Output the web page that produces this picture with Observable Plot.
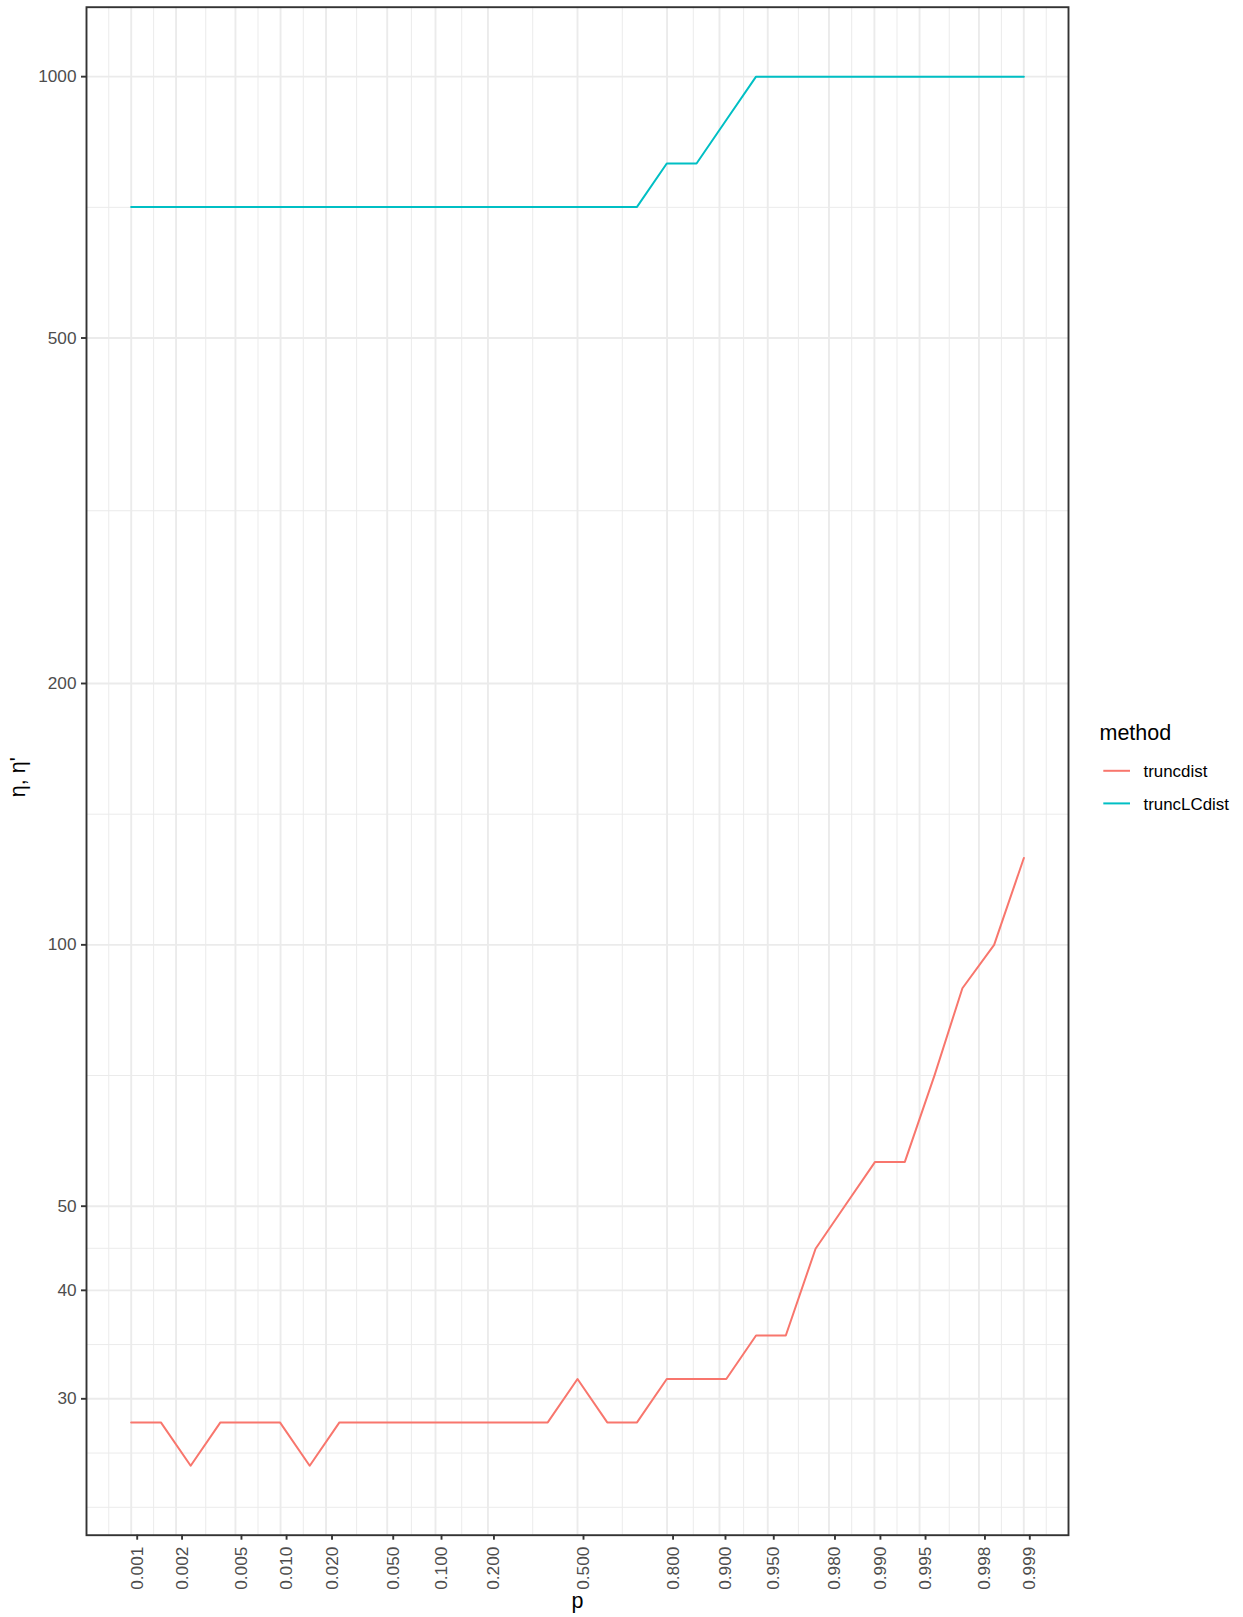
<!DOCTYPE html>
<html>
<head>
<meta charset="utf-8">
<script src="https://cdn.jsdelivr.net/npm/d3@7"></script>
<script src="https://cdn.jsdelivr.net/npm/@observablehq/plot@0.6"></script>
<style>
  body { margin: 0; background: #ffffff; }
  #wrap { position: relative; width: 1243px; height: 1617px; font-family: "Liberation Sans", Arial, Helvetica, sans-serif; }
  #legend { position: absolute; left: 0; top: 0; }
</style>
</head>
<body>
<div id="wrap"></div>
<script>
// ---- data ----
const pValues = [
  0.000999, 0.001582, 0.002506, 0.003965, 0.006270, 0.009901, 0.015602, 0.024503,
  0.038287, 0.059351, 0.090909, 0.136806, 0.200763, 0.284747, 0.386863, 0.500000,
  0.613137, 0.715253, 0.799237, 0.863194, 0.909091, 0.940649, 0.961713, 0.975497,
  0.984398, 0.990099, 0.993730, 0.996035, 0.997418, 0.998418, 0.999001
];
const truncdist = [
  28.18, 28.18, 25.12, 28.18, 28.18, 28.18, 25.12, 28.18,
  28.18, 28.18, 28.18, 28.18, 28.18, 28.18, 28.18, 31.62,
  28.18, 28.18, 31.62, 31.62, 31.62, 35.48, 35.48, 44.67,
  50.12, 56.23, 56.23, 70.79, 89.13, 100.0, 125.9
];
const truncLCdist = [
  707.9, 707.9, 707.9, 707.9, 707.9, 707.9, 707.9, 707.9,
  707.9, 707.9, 707.9, 707.9, 707.9, 707.9, 707.9, 707.9,
  707.9, 707.9, 794.3, 794.3, 891.3, 1000, 1000, 1000,
  1000, 1000, 1000, 1000, 1000, 1000, 1000
];
const methods = ["truncdist", "truncLCdist"];
const methodColors = ["#F8766D", "#00BFC4"];

const xTicks = [0.001, 0.002, 0.005, 0.010, 0.020, 0.050, 0.100, 0.200, 0.500,
                0.800, 0.900, 0.950, 0.980, 0.990, 0.995, 0.998, 0.999];
const xTickLabels = ["0.001", "0.002", "0.005", "0.010", "0.020", "0.050", "0.100", "0.200", "0.500",
                     "0.800", "0.900", "0.950", "0.980", "0.990", "0.995", "0.998", "0.999"];
const xMinor = [0.000707, 0.001414, 0.003163, 0.007074, 0.014155, 0.031734, 0.071039, 0.142857, 0.333333,
                0.666667, 0.857143, 0.928961, 0.968266, 0.985845, 0.992926, 0.996837, 0.998586, 0.999293];
const yTicks = [30, 40, 50, 100, 200, 500, 1000];
const yTickLabels = ["30", "40", "50", "100", "200", "500", "1000"];
const yMinor = [22.5, 25.98, 34.64, 44.72, 70.71, 141.42, 316.23, 707.11];

const xTitle = "p";
const yTitle = "η, η'";
const legendTitle = "method";

// ---- build ----
const logit = p => Math.log(p / (1 - p));
const data = [];
pValues.forEach((p, i) => {
  data.push({p, value: truncdist[i], method: methods[0]});
  data.push({p, value: truncLCdist[i], method: methods[1]});
});

const xLo = logit(d3.min(pValues)), xHi = logit(d3.max(pValues));
const xPad = (xHi - xLo) * 0.05;
const allY = truncdist.concat(truncLCdist);
const yLo = Math.log10(d3.min(allY)), yHi = Math.log10(d3.max(allY));
const yPad = (yHi - yLo) * 0.05;

const xLabelMap = new Map(xTicks.map((t, i) => [logit(t), xTickLabels[i]]));
const yLabelMap = new Map(yTicks.map((t, i) => [t, yTickLabels[i]]));
const FONT = "'Liberation Sans', Arial, Helvetica, sans-serif";
const GRID = "#EBEBEB";

const chart = Plot.plot({
  width: 1243,
  height: 1617,
  marginLeft: 86,
  marginRight: 175,
  marginTop: 6.7,
  marginBottom: 82.3,
  style: {fontFamily: FONT, background: "#ffffff", overflow: "visible"},
  x: {type: "linear", domain: [xLo - xPad, xHi + xPad]},
  y: {type: "log", domain: [10 ** (yLo - yPad), 10 ** (yHi + yPad)]},
  color: {domain: methods, range: methodColors},
  marks: [
    Plot.ruleX(xMinor, {x: d => logit(d), stroke: GRID, strokeWidth: 1}),
    Plot.ruleY(yMinor, {y: d => d, stroke: GRID, strokeWidth: 1}),
    Plot.ruleX(xTicks, {x: d => logit(d), stroke: GRID, strokeWidth: 1.9}),
    Plot.ruleY(yTicks, {y: d => d, stroke: GRID, strokeWidth: 1.9}),
    Plot.line(data, {x: d => logit(d.p), y: "value", z: "method", stroke: "method", strokeWidth: 2}),
    Plot.frame({stroke: "#333333", strokeWidth: 1.9}),
    Plot.axisX(xTicks.map(logit), {
      tickFormat: d => xLabelMap.get(d),
      tickRotate: -90, tickSize: 5, tickPadding: 6.5, dx: 6,
      fontSize: 17.2, fill: "#4D4D4D", stroke: "#333333", strokeWidth: 1.9,
      label: null
    }),
    Plot.axisY(yTicks, {
      tickFormat: d => yLabelMap.get(d),
      tickSize: 5, tickPadding: 5,
      fontSize: 17.2, fill: "#4D4D4D", stroke: "#333333", strokeWidth: 1.9,
      label: null
    }),
    Plot.text([xTitle], {frameAnchor: "bottom", lineAnchor: "bottom", dy: 73, fontSize: 21.5, fill: "#000000"}),
    Plot.text([yTitle], {frameAnchor: "left", lineAnchor: "bottom", rotate: -90, dx: -61.3, dy: 26, fontSize: 21.5, fill: "#000000"})
  ]
});

const wrap = document.getElementById("wrap");
wrap.appendChild(chart);

// legend (drawn to the right of the panel)
const ns = "http://www.w3.org/2000/svg";
const leg = document.createElementNS(ns, "svg");
leg.setAttribute("id", "legend");
leg.setAttribute("width", 1243);
leg.setAttribute("height", 1617);
leg.style.position = "absolute";
leg.style.left = "0px";
leg.style.top = "0px";
leg.style.pointerEvents = "none";
leg.style.fontFamily = FONT;
const t0 = document.createElementNS(ns, "text");
t0.setAttribute("x", 1099.5);
t0.setAttribute("y", 740);
t0.setAttribute("font-size", 21.5);
t0.setAttribute("fill", "#000000");
t0.textContent = legendTitle;
leg.appendChild(t0);
methods.forEach((m, i) => {
  const cy = 770.8 + i * 32.6;
  const ln = document.createElementNS(ns, "line");
  ln.setAttribute("x1", 1103.3); ln.setAttribute("x2", 1130);
  ln.setAttribute("y1", cy); ln.setAttribute("y2", cy);
  ln.setAttribute("stroke", methodColors[i]); ln.setAttribute("stroke-width", 2);
  leg.appendChild(ln);
  const tx = document.createElementNS(ns, "text");
  tx.setAttribute("x", 1143.5);
  tx.setAttribute("y", cy + 6.4);
  tx.setAttribute("font-size", 16.9);
  tx.setAttribute("fill", "#000000");
  tx.textContent = m;
  leg.appendChild(tx);
});
wrap.appendChild(leg);
</script>
</body>
</html>
